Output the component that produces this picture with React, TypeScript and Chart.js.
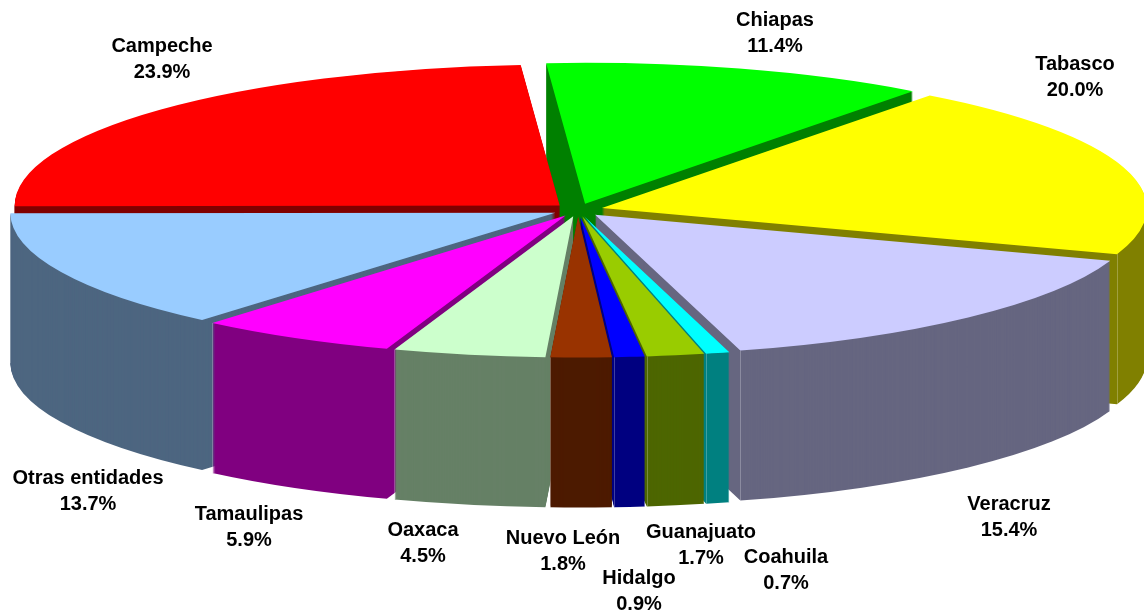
import React, { useEffect, useRef } from "react";
import { Chart, registerables } from "chart.js";

Chart.register(...registerables);

const categories = ["Chiapas", "Tabasco", "Veracruz", "Coahuila", "Guanajuato", "Hidalgo", "Nuevo León", "Oaxaca", "Tamaulipas", "Otras entidades", "Campeche"];
const shares = [11.4, 20.0, 15.4, 0.7, 1.7, 0.9, 1.8, 4.5, 5.9, 13.7, 23.9];
const topColors = ["#00FF00", "#FFFF00", "#CCCCFF", "#00FFFF", "#99CC00", "#0000FF", "#993300", "#CCFFCC", "#FF00FF", "#99CCFF", "#FF0000"];
const wallColors = ["#008000", "#808000", "#666680", "#008080", "#4D6600", "#000080", "#4D1A00", "#668066", "#800080", "#4D6680", "#800000"];
const labelCentersX = [775, 1075, 1009, 786, 701, 639, 563, 423, 249, 88, 162];
const labelCentersY = [33, 77, 517, 570, 545, 591, 551, 543, 527, 491, 59];

const WIDTH = 1144;
const HEIGHT = 616;
const CX = 578;
const CY = 210;
const RX = 545;
const RY = 141;
const DEPTH = 150;
const EXPLODE = 25;
const LINE_GAP = 13;
const FONT = "bold 20px 'Liberation Sans', Arial, sans-serif";

const pie3d = {
  id: "pie3d",
  beforeDatasetsDraw(chart: any) {
    const { ctx } = chart;
    const arcs: any[] = chart.getDatasetMeta(0).data;
    const order = arcs
      .map((arc, i) => ({ arc, i, mid: (arc.startAngle + arc.endAngle) / 2 }))
      .sort((a, b) => Math.sin(a.mid) - Math.sin(b.mid));

    for (const { arc, i, mid } of order) {
      const apexX = CX + Math.cos(mid) * EXPLODE;
      const apexY = CY + Math.sin(mid) * EXPLODE * (RY / RX);
      const place = (dy: number) => {
        ctx.translate(apexX, apexY + dy);
        ctx.scale(RX / arc.outerRadius, RY / arc.outerRadius);
        ctx.translate(-arc.x, -arc.y);
      };
      ctx.fillStyle = wallColors[i];
      for (let dy = DEPTH; dy >= 1; dy--) {
        ctx.save();
        place(dy);
        ctx.beginPath();
        ctx.moveTo(arc.x, arc.y);
        ctx.arc(arc.x, arc.y, arc.outerRadius, arc.startAngle, arc.endAngle);
        ctx.closePath();
        ctx.restore();
        ctx.fill();
      }
      if (Math.sin(arc.endAngle) > 0) {
        const rimX = Math.round(apexX + Math.cos(arc.endAngle) * RX) + 0.5;
        const rimY = apexY + Math.sin(arc.endAngle) * RY;
        ctx.strokeStyle = "rgba(255,255,255,0.25)";
        ctx.lineWidth = 1;
        ctx.beginPath();
        ctx.moveTo(rimX, rimY);
        ctx.lineTo(rimX, rimY + DEPTH);
        ctx.stroke();
      }
      ctx.save();
      place(0);
      arc.draw(ctx);
      ctx.restore();
    }
    return false;
  },
  afterDraw(chart: any) {
    const { ctx } = chart;
    ctx.save();
    ctx.fillStyle = "#000000";
    ctx.font = FONT;
    ctx.textAlign = "center";
    ctx.textBaseline = "middle";
    categories.forEach((name, i) => {
      ctx.fillText(name, labelCentersX[i], labelCentersY[i] - LINE_GAP);
      ctx.fillText(`${shares[i].toFixed(1)}%`, labelCentersX[i], labelCentersY[i] + LINE_GAP);
    });
    ctx.restore();
  },
};

export default function App() {
  const ref = useRef<HTMLCanvasElement>(null);
  useEffect(() => {
    document.body.style.margin = "0";
    document.body.style.background = "#ffffff";
    const chart = new Chart(ref.current as HTMLCanvasElement, {
      type: "pie",
      data: {
        labels: categories,
        datasets: [{ data: shares, backgroundColor: topColors, borderWidth: 0 }],
      },
      options: {
        responsive: false,
        animation: false,
        rotation: -4.1,
        layout: { padding: 0 },
        plugins: { legend: { display: false }, tooltip: { enabled: false }, title: { display: false } },
      },
      plugins: [pie3d],
    } as any);
    return () => chart.destroy();
  }, []);
  return <canvas ref={ref} width={WIDTH} height={HEIGHT} style={{ display: "block" }} />;
}
